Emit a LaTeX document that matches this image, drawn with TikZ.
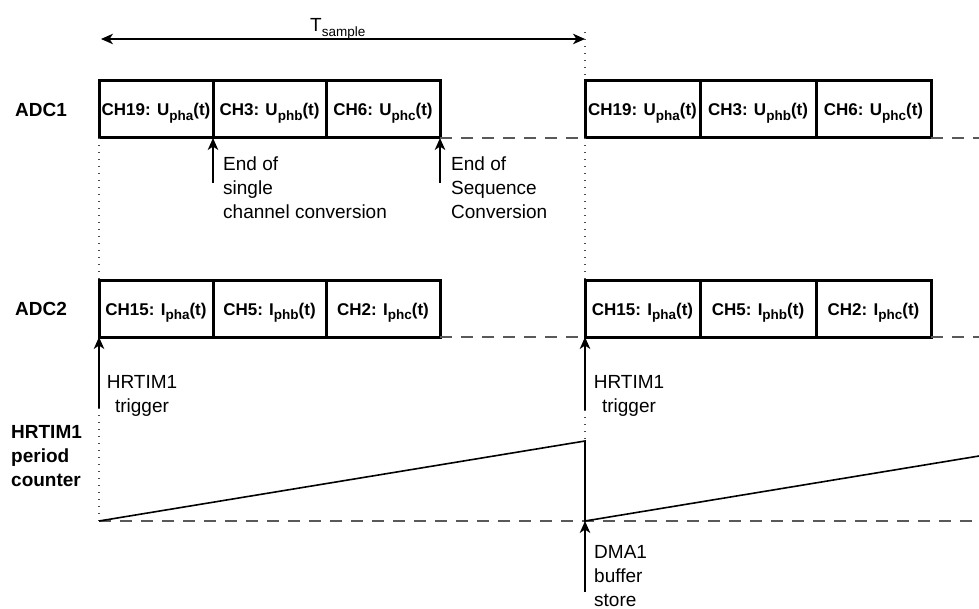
\documentclass[tikz,border=0pt]{standalone}
\usepackage{fontspec}
\setmainfont{Liberation Sans}
\usetikzlibrary{arrows.meta}
\newcommand{\mysub}[1]{\raisebox{-4.5pt}{\fontsize{13.5}{13.5}\selectfont #1}}
\tikzset{
  cell/.style={draw=black, line width=3pt, minimum height=57pt, inner sep=0pt, outer sep=0pt,
    font=\fontsize{17}{20}\selectfont\bfseries, text height=12.2pt, text depth=0pt},
  lbl/.style={font=\fontsize{19}{24}\selectfont, inner sep=0pt, align=left},
  clbl/.style={font=\fontsize{19}{24.5}\selectfont, inner sep=0pt, align=center},
  head/.style={font=\fontsize{19}{24}\selectfont\bfseries, inner sep=0pt, align=left},
  tip/.style={},
  arr/.style={line width=1.6pt, -{Stealth[length=12pt,width=10.5pt,inset=3.5pt]}},
  darr/.style={line width=1.6pt, {Stealth[length=12pt,width=10.5pt,inset=3.5pt]}-{Stealth[length=12pt,width=10.5pt,inset=3.5pt]}},
  dashln/.style={draw=black!65, line width=1.7pt, dash pattern=on 12pt off 9pt},
  dotln/.style={draw=black!70, line width=1.3pt, dash pattern=on 1.3pt off 5.7pt},
  ramp/.style={line width=1.6pt}
}
\begin{document}
\begin{tikzpicture}[x=1pt,y=-1pt]
\useasboundingbox (0,0) rectangle (979,609);

% ADC1 cells
\node[cell, minimum width=114pt] (a1) at (156,109.5) {CH19: U\mysub{pha}(t)};
\node[cell, minimum width=113pt] (a2) at (269.5,109.5) {CH3: U\mysub{phb}(t)};
\node[cell, minimum width=114pt] (a3) at (383,109.5) {CH6: U\mysub{phc}(t)};
\node[cell, minimum width=115pt] (b1) at (642.5,109.5) {CH19: U\mysub{pha}(t)};
\node[cell, minimum width=116pt] (b2) at (758,109.5) {CH3: U\mysub{phb}(t)};
\node[cell, minimum width=115pt] (b3) at (873.5,109.5) {CH6: U\mysub{phc}(t)};

% ADC2 cells
\node[cell, minimum width=114pt, minimum height=56pt] (c1) at (156,309) {CH15: I\mysub{pha}(t)};
\node[cell, minimum width=113pt, minimum height=56pt] (c2) at (269.5,309) {CH5: I\mysub{phb}(t)};
\node[cell, minimum width=114pt, minimum height=56pt] (c3) at (383,309) {CH2: I\mysub{phc}(t)};
\node[cell, minimum width=115pt, minimum height=56pt] (d1) at (642.5,309) {CH15: I\mysub{pha}(t)};
\node[cell, minimum width=116pt, minimum height=56pt] (d2) at (758,309) {CH5: I\mysub{phb}(t)};
\node[cell, minimum width=115pt, minimum height=56pt] (d3) at (873.5,309) {CH2: I\mysub{phc}(t)};

% row labels
\node[head] (adc1) at (41,110) {ADC1};
\node[head] (adc2) at (41,309) {ADC2};
\node[head, anchor=west] (hrt) at (11,456) {HRTIM1\\period\\counter};

% T_sample
\node[anchor=base west, inner sep=0pt, font=\fontsize{19}{24}\selectfont] (ts) at (310,32) {T\mysub{sample}};
\coordinate (tl) at (101,39);
\coordinate (tr) at (585,39);
\draw[darr] (tl) -- (tr);

% dotted guides
\coordinate (top585) at (585,32);
\draw[dotln] (top585) -- (b1.north west);
\draw[dotln] (b1.south west) -- (d1.north west);
\draw[dotln] (a1.south west) -- (c1.north west);

% ADC1 events
\coordinate (e1) at (213,183);
\coordinate (e2) at (440,183);
\draw[arr] (e1) -- (a1.south east);
\draw[arr] (e2) -- (a3.south east);
\node[lbl, anchor=north west] (eos) at (223,157) {End of\\single\\channel conversion};
\node[lbl, anchor=north west] (eoq) at (451,157) {End of\\Sequence\\Conversion};

% dashed idle lines
\coordinate (r1) at (979,138);
\coordinate (r2) at (979,337);
\draw[dashln] (a3.south east) -- (b1.south west);
\draw[dashln] (b3.south east) -- (r1);
\draw[dashln] (c3.south east) -- (d1.south west);
\draw[dashln] (d3.south east) -- (r2);

% HRTIM1 triggers
\coordinate (t1) at (99,408);
\coordinate (z1) at (99,521);
\draw[arr] (t1) -- (c1.south west);
\draw[dotln] (t1) -- (z1);
\node[clbl] (trg1) at (142,396) {HRTIM1\\trigger};

\coordinate (t2) at (585,410);
\coordinate (p2) at (585,441);
\draw[arr] (t2) -- (d1.south west);
\draw[dotln] (t2) -- (p2);
\node[clbl] (trg2) at (629,396) {HRTIM1\\trigger};

% counter ramp
\coordinate (z2) at (585,521);
\coordinate (rend) at (979,456);
\coordinate (bz) at (979,521);
\draw[dashln] (z1) -- (bz);
\draw[ramp] (z1) -- (p2) -- (z2) -- (rend);

% DMA
\coordinate (dm) at (585,592);
\draw[arr] (dm) -- (z2);
\node[lbl, anchor=north west] (dma) at (594,545) {DMA1\\buffer\\store};
\end{tikzpicture}
\end{document}
